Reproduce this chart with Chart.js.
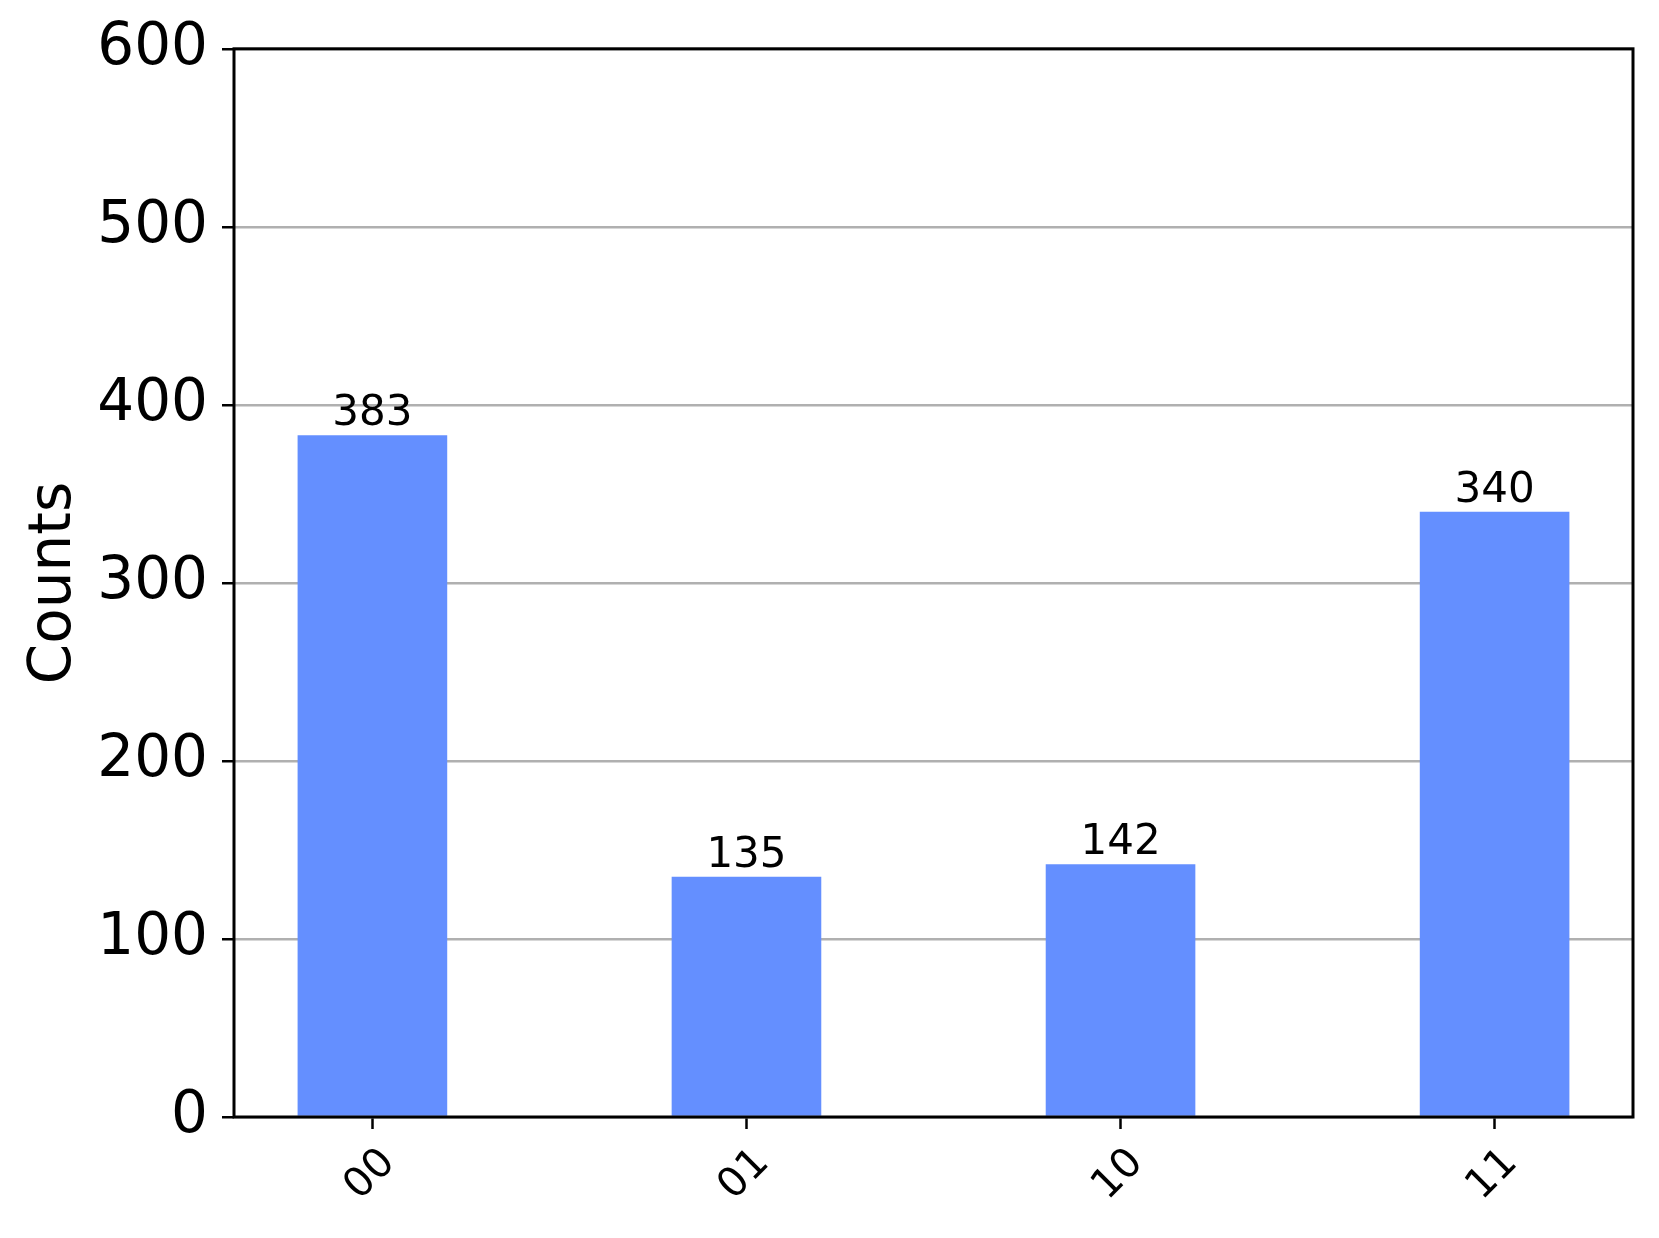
<!DOCTYPE html>
<html>
<head>
<meta charset="utf-8">
<script src="https://cdn.jsdelivr.net/npm/chart.js@4/dist/chart.umd.min.js"></script>
<style>
html,body{margin:0;padding:0;background:#fff;}
#wrap{width:1659px;height:1238px;}
</style>
</head>
<body>
<div id="wrap"><canvas id="c" width="1659" height="1238"></canvas></div>
<script>
const categories = ['00', '01', '10', '11'];
const counts = [383, 135, 142, 340];
const yTicks = [0, 100, 200, 300, 400, 500, 600];
const yLabel = 'Counts';

const FONT = "'DejaVu Sans', sans-serif";

const framePlugin = {
  id: 'frame',
  afterDatasetsDraw(chart) {
    const ctx = chart.ctx;
    ctx.save();
    const meta = chart.getDatasetMeta(0);
    ctx.fillStyle = '#000';
    ctx.font = '42px ' + FONT;
    ctx.textAlign = 'center';
    ctx.textBaseline = 'alphabetic';
    meta.data.forEach((bar, i) => {
      ctx.fillText(String(counts[i]), bar.x, bar.y - 10);
    });
    ctx.restore();
  },
  afterDraw(chart) {
    const ctx = chart.ctx;
    const a = chart.chartArea;
    ctx.save();
    ctx.strokeStyle = '#000';
    ctx.lineWidth = 3;
    ctx.strokeRect(a.left, a.top, a.right - a.left, a.bottom - a.top);
    const xs = chart.scales.x;
    ctx.fillStyle = '#000';
    ctx.font = '41px ' + FONT;
    ctx.textAlign = 'center';
    ctx.textBaseline = 'middle';
    categories.forEach((lab, i) => {
      const px = xs.getPixelForValue(i);
      ctx.save();
      ctx.translate(px - 2, a.bottom + 58);
      ctx.rotate(-Math.PI / 4);
      ctx.fillText(lab, 0, 0);
      ctx.restore();
    });
    ctx.restore();
  }
};

new Chart(document.getElementById('c'), {
  type: 'bar',
  data: {
    datasets: [{
      data: counts.map((v, i) => ({ x: i, y: v })),
      backgroundColor: '#648FFF',
      borderWidth: 0,
      categoryPercentage: 1.0,
      barPercentage: 0.4
    }]
  },
  options: {
    responsive: false,
    animation: false,
    devicePixelRatio: 1,
    layout: { padding: { top: 46, right: 26, left: 0, bottom: 0 } },
    plugins: { legend: { display: false }, tooltip: { enabled: false } },
    scales: {
      x: {
        type: 'linear',
        offset: false,
        min: -0.37,
        max: 3.37,
        afterBuildTicks: (s) => { s.ticks = categories.map((_, i) => ({ value: i })); },
        afterFit: (s) => { s.height = 1238 - 1117; },
        grid: { offset: false, drawOnChartArea: false, drawTicks: true, tickLength: 12, tickColor: '#000', tickWidth: 2.5 },
        border: { display: false },
        ticks: { color: 'rgba(0,0,0,0)', maxRotation: 0, minRotation: 0, font: { size: 40, family: FONT }, callback: (v) => categories[v] }
      },
      y: {
        min: 0,
        max: 600,
        afterBuildTicks: (s) => { s.ticks = yTicks.map(v => ({ value: v })); },
        afterFit: (s) => { s.width = 234; },
        grid: { color: '#b0b0b0', lineWidth: 2.5, drawTicks: true, tickLength: 12, tickColor: '#000', tickWidth: 2.5 },
        border: { display: false },
        ticks: { color: '#000', padding: 14, font: { size: 58, family: FONT } },
        title: { display: true, text: yLabel, color: '#000', font: { size: 58, family: FONT }, padding: { top: 20, bottom: 0 } }
      }
    }
  },
  plugins: [framePlugin]
});
</script>
</body>
</html>
